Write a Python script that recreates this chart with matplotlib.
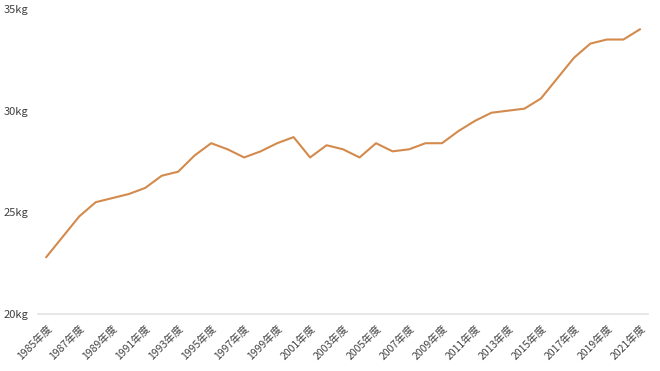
import matplotlib
matplotlib.use("Agg")
import matplotlib.pyplot as plt

plt.rcParams["font.family"] = ["Noto Sans CJK JP", "DejaVu Sans"]

years = list(range(1985, 2022))
values = [
    22.8, 23.8, 24.8, 25.5, 25.7, 25.9, 26.2, 26.8, 27.0, 27.8,
    28.4, 28.1, 27.7, 28.0, 28.4, 28.7, 27.7, 28.3, 28.1, 27.7,
    28.4, 28.0, 28.1, 28.4, 28.4, 29.0, 29.5, 29.9, 30.0, 30.1,
    30.6, 31.6, 32.6, 33.3, 33.5, 33.5, 34.0,
]
x_labels = [f"{y}年度" for y in years]
y_ticks = [20, 25, 30, 35]
y_labels = [f"{v}kg" for v in y_ticks]

fig = plt.figure(figsize=(6.6, 3.71), dpi=100)
ax = fig.add_axes([0.0576, 0.1536, 0.9244, 0.8221])

idx = list(range(len(years)))
ax.plot(idx, values, color="#D38A4C", linewidth=1.5)

ax.set_xlim(-0.5, len(years) - 0.5)
ax.set_ylim(20, 35)
ax.set_yticks(y_ticks)
ax.set_yticklabels(y_labels, fontsize=8, color="#404040")
ax.set_xticks(idx[::2])
ax.set_xticklabels(x_labels[::2], fontsize=7.5, color="#404040",
                   rotation=45, ha="right", rotation_mode="anchor")
ax.tick_params(axis="both", length=0)
ax.tick_params(axis="y", pad=7)
ax.tick_params(axis="x", pad=7)

for side in ["top", "right", "left"]:
    ax.spines[side].set_visible(False)
ax.spines["bottom"].set_color("#E3E3E3")
ax.spines["bottom"].set_linewidth(1.2)

fig.savefig("out.png", dpi=100)
